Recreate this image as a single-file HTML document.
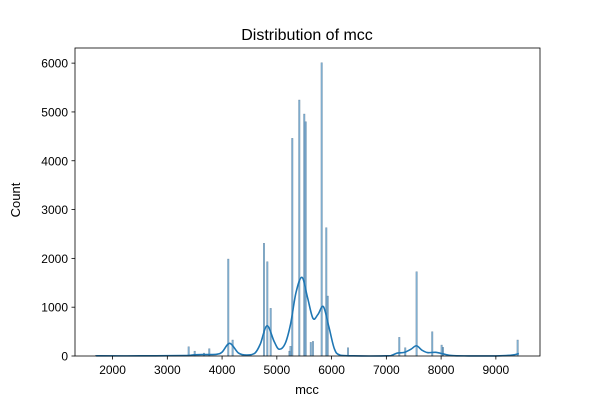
<!DOCTYPE html>
<html><head><meta charset="utf-8"><style>
body{margin:0;background:#fff;}
svg{display:block;font-family:"Liberation Sans","DejaVu Sans",sans-serif;}
</style></head><body>
<svg id="chart" width="600" height="400">
<rect width="600" height="400" fill="#fff"/>
<g id="bars"></g>
<path id="kde" fill="none" stroke="#1f77b4" stroke-width="1.6"/>
<g id="axes"></g>
<text x="307" y="40" text-anchor="middle" font-size="16">Distribution of mcc</text>
<text x="307" y="394" text-anchor="middle" font-size="13">mcc</text>
<text x="20" y="200" text-anchor="middle" font-size="13" transform="rotate(-90 20 200)">Count</text>
</svg>
<script>
const binValues=[1700,3390,3500,3670,3766,4113,4193,4765,4826,4888,5230,5250,5282,5410,5501,5527,5620,5660,5819,5903,5929,6300,7236,7345,7553,7838,8010,8035,9398];
const binCounts=[15,190,100,60,150,1987,328,2309,1932,977,100,200,4460,5245,4958,4800,280,300,6009,2629,1229,170,383,170,1727,498,225,178,328];
const kdeX=[1700,2500,3300,3500,3700,3900,4000,4140,4300,4450,4600,4700,4820,4950,5040,5150,5250,5350,5460,5560,5660,5750,5850,5950,6050,6150,6400,7000,7100,7200,7330,7450,7550,7650,7750,7900,8050,8200,8500,9000,9300,9420];
const kdeY=[3,3,8,25,30,35,80,260,60,20,60,250,620,300,140,250,650,1300,1612,1200,772,850,1010,600,150,20,3,3,15,60,75,140,210,120,70,75,40,8,2,2,20,50];
const yTicks=[0,1000,2000,3000,4000,5000,6000];
const xTicks=[2000,3000,4000,5000,6000,7000,8000,9000];
const L=75,R=540,T=48,B=356,xmin=1314,xmax=9806,ymax=6310;
const X=v=>L+(v-xmin)*(R-L)/(xmax-xmin);
const Y=v=>B-v*(B-T)/ymax;
const NS="http://www.w3.org/2000/svg";
const bars=document.getElementById('bars');
const bw=28;
binValues.forEach((v,i)=>{
 const r=document.createElementNS(NS,'rect');
 
 
 r.setAttribute('x',X(v-bw/2));r.setAttribute('width',X(v+bw/2)-X(v-bw/2));
 r.setAttribute('y',Y(binCounts[i]));r.setAttribute('height',B-Y(binCounts[i]));
 r.setAttribute('fill','rgba(31,119,180,0.55)');r.setAttribute('stroke','rgba(60,90,120,0.6)');r.setAttribute('stroke-width','0.4');
 bars.appendChild(r);
});
const pts=kdeX.map((v,i)=>[X(v),Y(kdeY[i])]);
let d='M'+pts[0][0]+','+pts[0][1];
for(let i=0;i<pts.length-1;i++){
 const p0=pts[Math.max(0,i-1)],p1=pts[i],p2=pts[i+1],p3=pts[Math.min(pts.length-1,i+2)];
 const c1=[p1[0]+(p2[0]-p0[0])/6,p1[1]+(p2[1]-p0[1])/6],c2=[p2[0]-(p3[0]-p1[0])/6,p2[1]-(p3[1]-p1[1])/6];
 d+=` C${c1[0]},${Math.min(B,c1[1])} ${c2[0]},${Math.min(B,c2[1])} ${p2[0]},${p2[1]}`;
}
document.getElementById('kde').setAttribute('d',d);
const ax=document.getElementById('axes');
let h=`<rect x="${L}" y="${T}" width="${R-L}" height="${B-T}" fill="none" stroke="#000" stroke-width="0.8"/>`;
yTicks.forEach(t=>{h+=`<line x1="${L-3.5}" x2="${L}" y1="${Y(t)}" y2="${Y(t)}" stroke="#000" stroke-width="0.8"/><text x="${L-7}" y="${Y(t)+4.5}" text-anchor="end" font-size="12">${t}</text>`;});
xTicks.forEach(t=>{h+=`<line x1="${X(t)}" x2="${X(t)}" y1="${B}" y2="${B+3.5}" stroke="#000" stroke-width="0.8"/><text x="${X(t)}" y="${B+18}" text-anchor="middle" font-size="12">${t}</text>`;});
ax.innerHTML=h;
</script>
</body></html>
